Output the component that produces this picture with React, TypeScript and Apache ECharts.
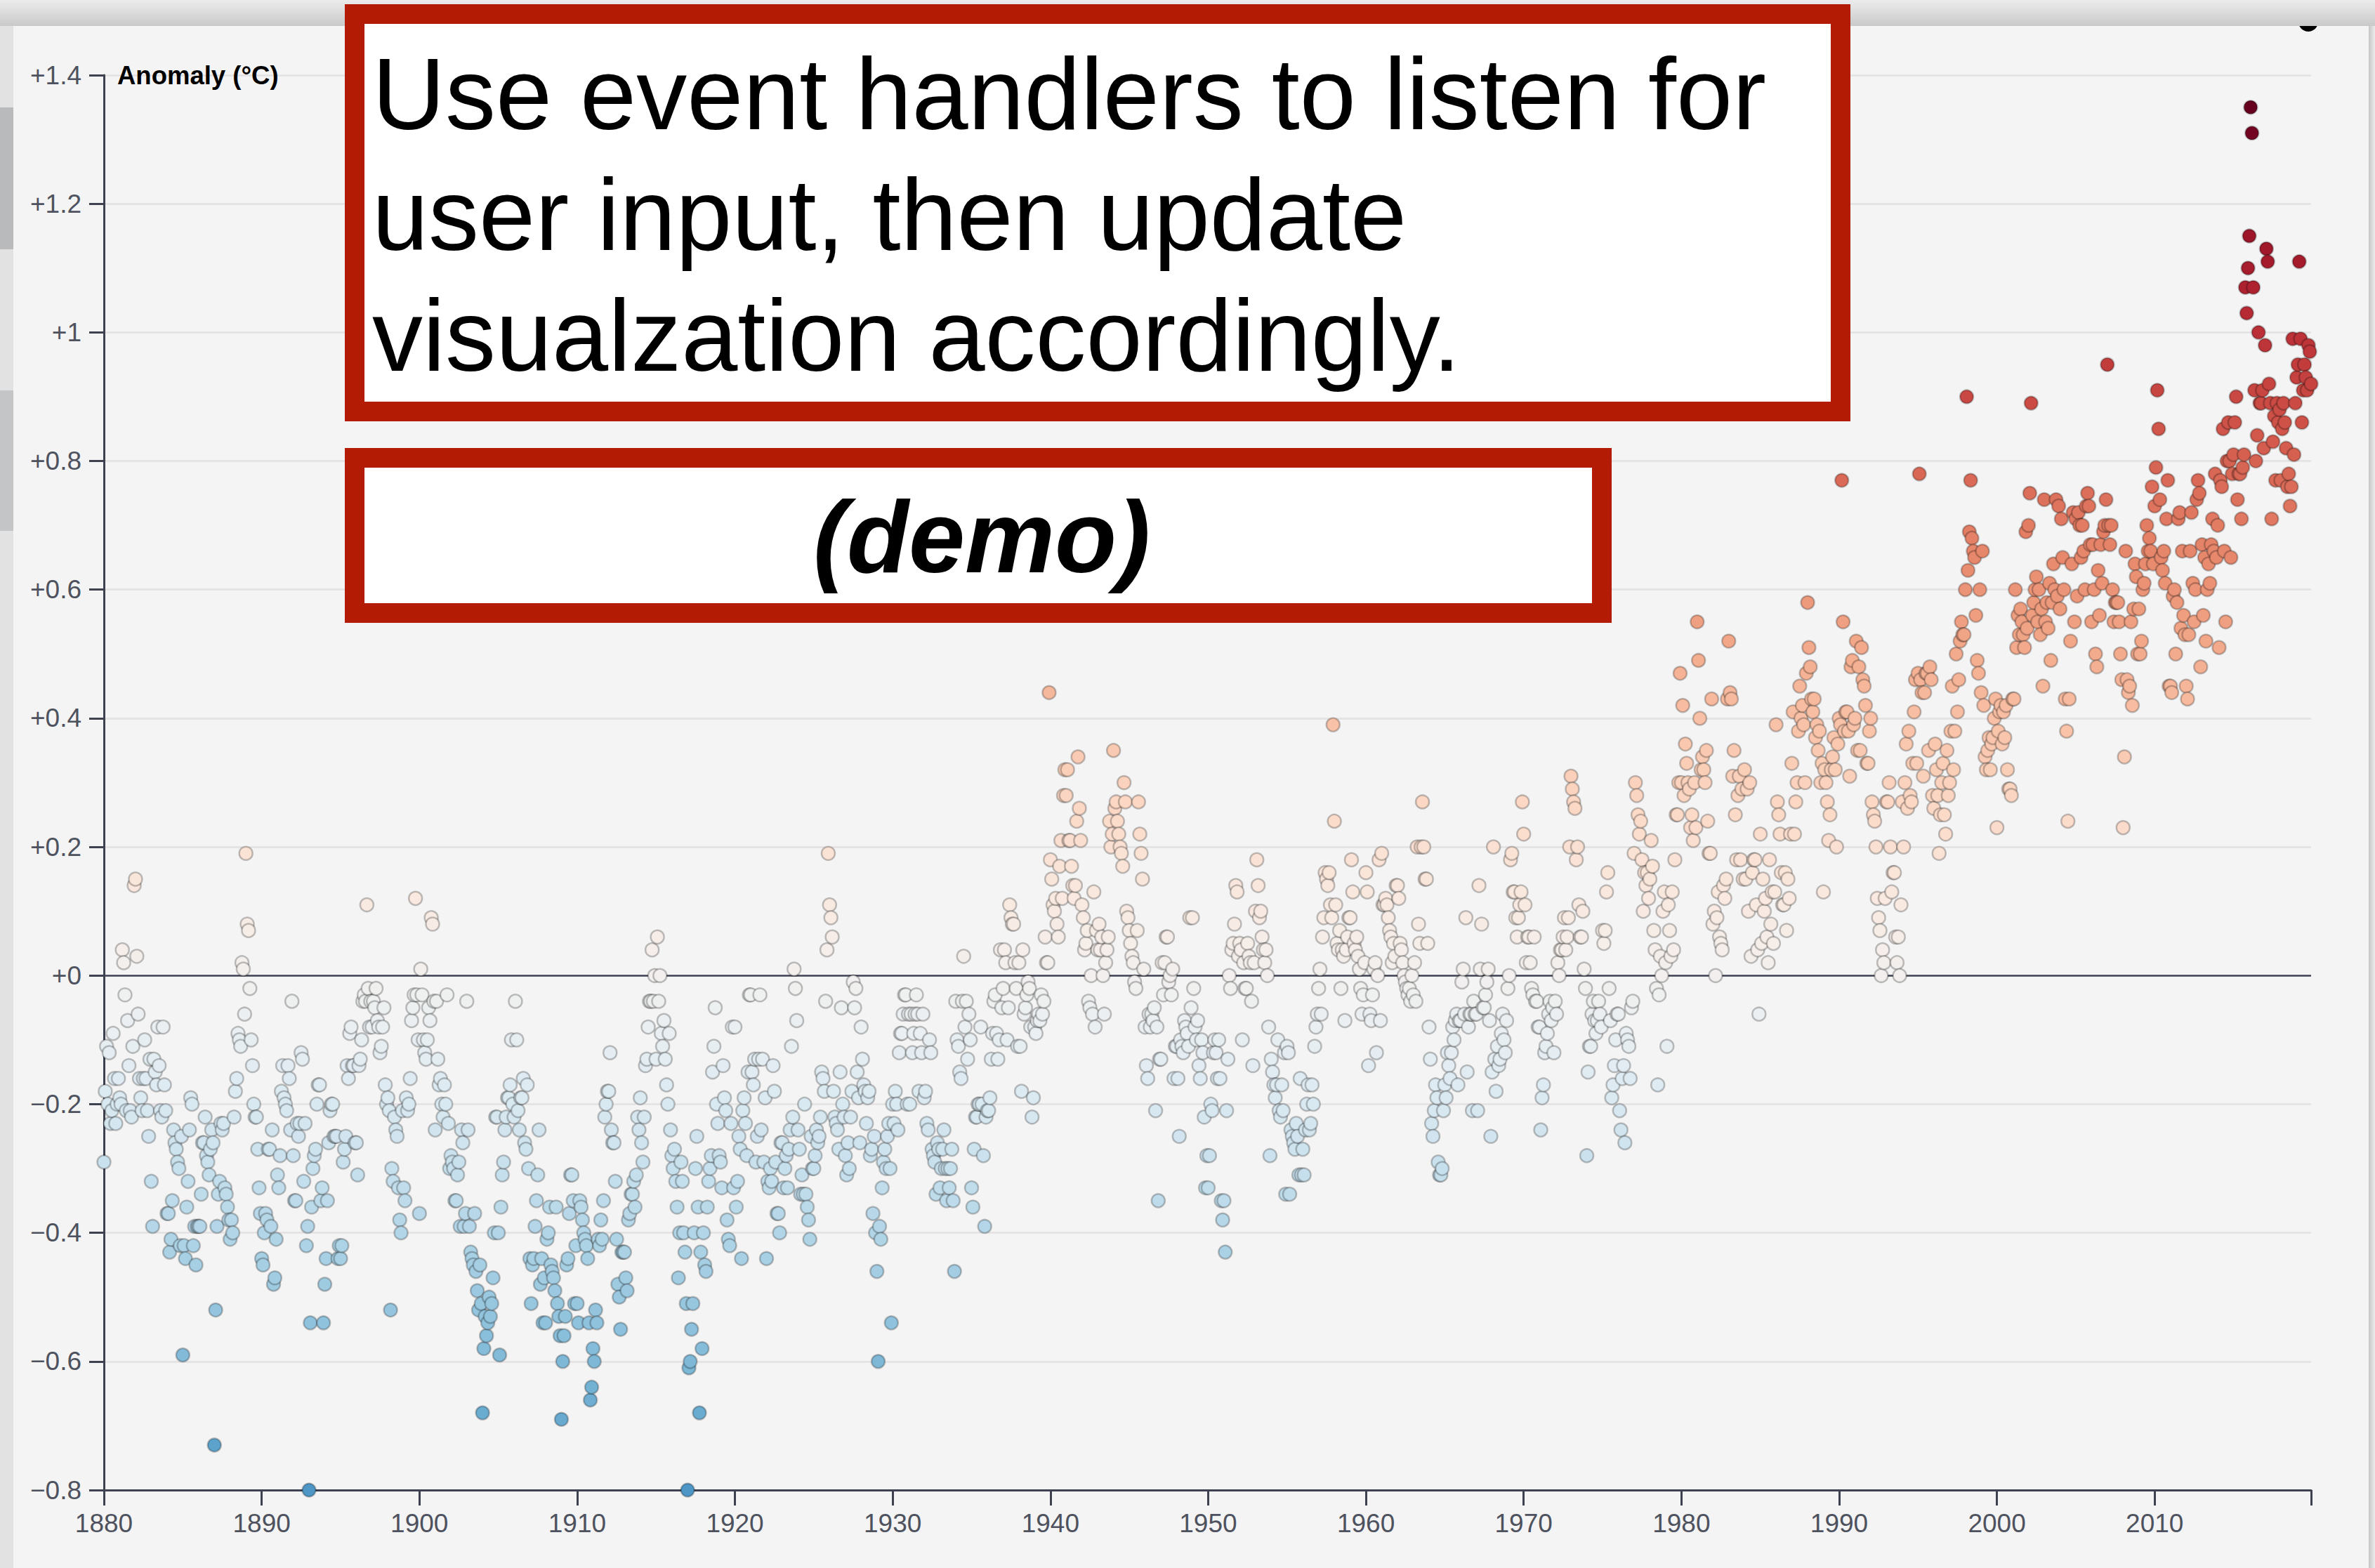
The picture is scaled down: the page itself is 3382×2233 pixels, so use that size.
import React, { useEffect, useRef } from "react";
import * as echarts from "echarts";

// ---------------- data (monthly anomalies, °C; 12 values per year) ----------------
const FIRST_YEAR = 1880;

const d1880s = [
  -0.29,-0.18,-0.11,-0.20,-0.12,-0.23,-0.21,-0.09,-0.16,-0.23,-0.20,-0.16,
  -0.19,-0.20,0.04,0.02,-0.03,-0.21,-0.07,-0.14,-0.21,-0.22,-0.11,0.14,
  0.15,0.03,-0.06,-0.16,-0.19,-0.21,-0.16,-0.10,-0.16,-0.21,-0.25,-0.13,
  -0.32,-0.39,-0.13,-0.15,-0.17,-0.08,-0.14,-0.21,-0.22,-0.08,-0.17,-0.21,
  -0.37,-0.37,-0.43,-0.41,-0.35,-0.24,-0.26,-0.27,-0.29,-0.30,-0.42,-0.25,
  -0.59,-0.42,-0.44,-0.36,-0.32,-0.24,-0.19,-0.20,-0.42,-0.39,-0.45,-0.39,
  -0.39,-0.39,-0.34,-0.26,-0.26,-0.22,-0.28,-0.29,-0.31,-0.27,-0.24,-0.26,
  -0.73,-0.52,-0.39,-0.34,-0.32,-0.23,-0.24,-0.23,-0.33,-0.34,-0.36,-0.38,
  -0.41,-0.38,-0.40,-0.22,-0.18,-0.16,-0.09,-0.10,-0.11,0.02,0.01,-0.06,
  0.19,0.08,0.07,-0.02,-0.10,-0.14,-0.20,-0.22,-0.22,-0.27,-0.33,-0.37,
];
const d1890s = [
  -0.44,-0.45,-0.40,-0.37,-0.38,-0.27,-0.27,-0.39,-0.24,-0.48,-0.47,-0.41,
  -0.31,-0.33,-0.28,-0.18,-0.14,-0.19,-0.20,-0.21,-0.14,-0.16,-0.24,-0.04,
  -0.28,-0.35,-0.35,-0.23,-0.25,-0.23,-0.12,-0.13,-0.32,-0.23,-0.42,-0.39,
  -0.80,-0.54,-0.36,-0.30,-0.28,-0.27,-0.20,-0.17,-0.17,-0.35,-0.33,-0.54,
  -0.48,-0.44,-0.35,-0.26,-0.21,-0.20,-0.20,-0.25,-0.25,-0.25,-0.44,-0.42,
  -0.44,-0.42,-0.29,-0.27,-0.25,-0.14,-0.16,-0.09,-0.08,-0.14,-0.14,-0.26,
  -0.26,-0.31,-0.14,-0.13,-0.10,-0.04,-0.03,-0.04,0.11,-0.02,-0.08,-0.04,
  -0.08,-0.04,-0.05,-0.02,-0.07,-0.08,-0.12,-0.11,-0.08,-0.05,-0.17,-0.20,
  -0.19,-0.21,-0.52,-0.30,-0.32,-0.22,-0.24,-0.25,-0.33,-0.38,-0.40,-0.21,
  -0.33,-0.35,-0.19,-0.21,-0.20,-0.16,-0.07,-0.05,-0.03,0.12,-0.03,-0.10,
];
const d1900s = [
  -0.37,0.01,-0.03,-0.10,-0.12,-0.13,-0.10,-0.05,-0.07,0.09,0.08,-0.04,
  -0.24,-0.04,-0.13,-0.17,-0.16,-0.20,-0.22,-0.17,-0.20,-0.03,-0.23,-0.30,
  -0.28,-0.29,-0.30,-0.35,-0.35,-0.31,-0.29,-0.39,-0.24,-0.26,-0.39,-0.37,
  -0.04,-0.24,-0.39,-0.43,-0.44,-0.45,-0.37,-0.46,-0.49,-0.52,-0.45,-0.51,
  -0.68,-0.58,-0.53,-0.56,-0.54,-0.50,-0.53,-0.51,-0.47,-0.40,-0.22,-0.22,
  -0.40,-0.59,-0.36,-0.31,-0.29,-0.24,-0.22,-0.19,-0.19,-0.17,-0.10,-0.20,
  -0.22,-0.04,-0.10,-0.21,-0.24,-0.19,-0.19,-0.16,-0.26,-0.27,-0.17,-0.30,
  -0.44,-0.51,-0.45,-0.44,-0.39,-0.35,-0.31,-0.24,-0.48,-0.44,-0.54,-0.47,
  -0.54,-0.41,-0.40,-0.36,-0.45,-0.46,-0.47,-0.49,-0.36,-0.51,-0.53,-0.56,
  -0.69,-0.60,-0.56,-0.53,-0.45,-0.44,-0.37,-0.31,-0.31,-0.35,-0.51,-0.42,
];
const d1910s = [
  -0.51,-0.54,-0.35,-0.36,-0.38,-0.40,-0.41,-0.42,-0.44,-0.54,-0.66,-0.64,
  -0.58,-0.60,-0.52,-0.54,-0.41,-0.42,-0.38,-0.41,-0.35,-0.22,-0.20,-0.18,
  -0.18,-0.12,-0.24,-0.26,-0.26,-0.32,-0.41,-0.48,-0.50,-0.55,-0.43,-0.43,
  -0.43,-0.47,-0.49,-0.38,-0.37,-0.34,-0.34,-0.32,-0.36,-0.31,-0.22,-0.24,
  -0.19,-0.26,-0.29,-0.22,-0.14,-0.13,-0.08,-0.04,-0.04,0.04,-0.04,0.00,
  -0.13,0.06,-0.04,0.00,-0.09,-0.11,-0.07,-0.13,-0.17,-0.20,-0.09,-0.24,
  -0.28,-0.30,-0.27,-0.32,-0.36,-0.47,-0.40,-0.29,-0.32,-0.40,-0.43,-0.51,
  -0.80,-0.61,-0.60,-0.55,-0.51,-0.40,-0.30,-0.25,-0.36,-0.68,-0.43,-0.58,
  -0.40,-0.45,-0.46,-0.36,-0.32,-0.30,-0.28,-0.15,-0.11,-0.05,-0.20,-0.23,
  -0.28,-0.29,-0.33,-0.14,-0.19,-0.21,-0.38,-0.41,-0.42,-0.23,-0.08,-0.33,
];
const d1920s = [
  -0.08,-0.36,-0.32,-0.25,-0.27,-0.44,-0.21,-0.19,-0.23,-0.28,-0.15,-0.03,
  -0.03,-0.15,-0.17,-0.13,-0.29,-0.25,-0.13,-0.03,-0.24,-0.13,-0.29,-0.19,
  -0.44,-0.32,-0.33,-0.30,-0.32,-0.14,-0.18,-0.29,-0.37,-0.37,-0.40,-0.26,
  -0.26,-0.33,-0.30,-0.28,-0.33,-0.27,-0.24,-0.11,-0.22,0.01,-0.02,-0.07,
  -0.24,-0.27,-0.34,-0.31,-0.34,-0.20,-0.34,-0.36,-0.38,-0.41,-0.25,-0.30,
  -0.30,-0.28,-0.24,-0.26,-0.25,-0.22,-0.15,-0.16,-0.18,-0.04,0.04,0.19,
  0.11,0.09,0.06,-0.18,-0.22,-0.23,-0.24,-0.27,-0.15,-0.05,-0.20,-0.22,
  -0.28,-0.31,-0.26,-0.30,-0.22,-0.18,-0.01,-0.05,-0.02,-0.15,-0.19,-0.26,
  -0.08,-0.13,-0.17,-0.18,-0.23,-0.19,-0.18,-0.28,-0.27,-0.37,-0.25,-0.40,
  -0.46,-0.60,-0.39,-0.41,-0.33,-0.29,-0.27,-0.30,-0.25,-0.23,-0.30,-0.54,
];
const d1930s = [
  -0.20,-0.23,-0.18,-0.20,-0.24,-0.12,-0.09,-0.09,-0.06,-0.03,-0.03,-0.20,
  -0.06,-0.20,-0.06,-0.12,-0.09,-0.06,-0.03,-0.06,-0.18,-0.09,-0.12,-0.06,
  -0.19,-0.18,-0.23,-0.24,-0.10,-0.12,-0.27,-0.28,-0.29,-0.34,-0.26,-0.27,
  -0.33,-0.30,-0.27,-0.24,-0.30,-0.35,-0.30,-0.33,-0.30,-0.27,-0.35,-0.46,
  -0.04,-0.10,-0.11,-0.15,-0.16,-0.04,0.03,-0.08,-0.04,-0.13,-0.06,-0.10,
  -0.33,-0.36,-0.27,-0.22,-0.22,-0.20,-0.20,-0.08,-0.20,-0.28,-0.39,-0.22,
  -0.21,-0.21,-0.19,-0.13,-0.09,-0.04,-0.03,-0.09,-0.13,-0.10,0.04,-0.05,
  -0.02,0.04,0.02,-0.10,-0.05,0.11,0.09,0.08,0.08,0.02,-0.02,-0.11,
  0.02,-0.11,-0.18,0.04,-0.06,-0.05,-0.03,-0.01,-0.02,-0.08,-0.22,-0.19,
  -0.08,-0.09,-0.07,-0.06,-0.07,-0.03,-0.06,-0.04,0.06,0.02,0.02,0.44,
];
const d1940s = [
  0.18,0.15,0.11,0.10,0.12,0.08,0.06,0.17,0.21,0.12,0.28,0.32,
  0.28,0.32,0.21,0.21,0.17,0.14,0.12,0.14,0.24,0.34,0.26,0.21,
  0.11,0.09,0.04,0.05,0.07,-0.04,-0.05,0.00,-0.06,0.13,-0.08,0.07,
  0.04,0.08,0.04,0.06,0.00,-0.06,0.02,0.04,0.06,0.24,0.20,0.22,
  0.35,0.26,0.27,0.24,0.22,0.20,0.19,0.17,0.30,0.27,0.10,0.09,
  0.07,0.05,0.03,0.02,-0.01,-0.02,0.07,0.27,0.22,0.19,0.15,0.01,
  -0.08,-0.14,-0.16,-0.06,-0.08,-0.06,-0.07,-0.05,-0.21,-0.08,-0.35,-0.13,
  -0.13,0.02,-0.03,0.02,0.06,0.06,-0.01,0.00,-0.03,0.01,-0.16,-0.11,
  -0.11,-0.16,-0.25,-0.10,-0.11,-0.12,-0.07,-0.08,-0.09,-0.11,0.09,-0.05,
  0.09,-0.02,-0.08,-0.10,-0.07,-0.14,-0.16,-0.10,-0.12,-0.22,-0.33,-0.28,
];
const d1950s = [
  -0.33,-0.28,-0.20,-0.21,-0.12,-0.10,-0.12,-0.16,-0.10,-0.16,-0.35,-0.38,
  -0.35,-0.43,-0.21,-0.13,0.00,-0.02,0.04,0.05,0.08,0.14,0.13,0.03,
  0.05,0.04,-0.10,0.02,-0.02,-0.02,0.05,0.03,0.02,-0.04,-0.14,0.02,
  0.10,0.18,0.14,0.09,0.10,0.06,0.04,0.02,0.04,0.00,-0.08,-0.28,
  -0.13,-0.15,-0.17,-0.19,-0.17,-0.10,-0.21,-0.22,-0.17,-0.21,-0.12,-0.34,
  -0.11,-0.12,-0.34,-0.24,-0.25,-0.26,-0.27,-0.23,-0.25,-0.31,-0.16,-0.31,
  -0.27,-0.31,-0.24,-0.20,-0.17,-0.24,-0.23,-0.17,-0.20,-0.11,-0.08,-0.06,
  -0.02,0.01,-0.06,0.06,0.09,0.16,0.15,0.14,0.16,0.11,0.09,0.39,
  0.24,0.11,0.05,0.04,0.07,-0.02,0.04,0.03,-0.07,0.04,0.06,0.09,
  0.09,0.18,0.13,0.05,0.04,0.06,0.03,0.01,-0.02,-0.06,-0.03,0.02,
];
const d1960s = [
  0.16,0.13,-0.14,-0.06,-0.07,-0.03,0.01,0.02,-0.12,0.00,0.18,-0.07,
  0.19,0.11,0.11,0.12,0.11,0.09,0.07,0.06,0.02,0.05,0.03,0.14,
  0.14,0.12,0.05,0.04,0.02,0.00,-0.01,-0.02,-0.03,-0.02,-0.04,0.00,
  -0.03,0.02,-0.04,0.20,0.08,0.05,0.20,0.27,0.20,0.15,0.15,0.05,
  -0.08,-0.13,-0.23,-0.25,-0.21,-0.17,-0.19,-0.29,-0.31,-0.31,-0.30,-0.21,
  -0.17,-0.19,-0.12,-0.14,-0.16,-0.12,-0.08,-0.10,-0.07,-0.06,-0.17,-0.07,
  -0.07,-0.01,0.01,-0.06,0.09,-0.15,-0.08,-0.06,-0.06,-0.21,-0.04,-0.06,
  -0.06,-0.21,0.14,0.01,0.08,-0.05,-0.05,-0.03,-0.01,0.01,-0.07,-0.25,
  -0.15,0.20,-0.13,-0.18,-0.11,-0.14,-0.13,-0.09,-0.06,-0.10,-0.12,-0.07,
  -0.02,0.00,0.18,0.19,0.13,0.13,0.09,0.06,0.09,0.11,0.13,0.27,
];
const d1970s = [
  0.22,0.11,0.02,0.06,0.06,0.02,-0.02,-0.03,0.06,-0.04,-0.04,-0.08,
  -0.08,-0.24,-0.19,-0.17,-0.12,-0.11,-0.09,-0.06,-0.04,-0.07,-0.05,-0.12,
  -0.04,-0.06,0.02,0.00,0.04,0.04,0.06,0.09,0.04,0.06,0.09,0.20,
  0.31,0.29,0.27,0.26,0.18,0.20,0.11,0.06,0.06,0.10,0.01,-0.02,
  -0.28,-0.15,-0.11,-0.11,-0.06,-0.04,-0.07,-0.09,-0.07,-0.04,-0.06,-0.08,
  0.07,0.05,0.07,0.13,0.16,-0.02,-0.07,-0.19,-0.17,-0.14,-0.10,-0.06,
  -0.06,-0.21,-0.24,-0.16,-0.14,-0.26,-0.09,-0.10,-0.11,-0.16,-0.05,-0.04,
  0.19,0.30,0.28,0.25,0.22,0.24,0.18,0.10,0.16,0.14,0.16,0.12,
  0.15,0.21,0.17,0.07,0.04,-0.02,-0.17,-0.03,0.03,0.00,0.10,0.13,
  0.02,-0.11,0.11,0.07,0.03,0.13,0.04,0.18,0.25,0.25,0.30,0.47,
];
const d1980s = [
  0.30,0.42,0.28,0.36,0.33,0.30,0.29,0.23,0.25,0.21,0.30,0.23,
  0.55,0.49,0.40,0.32,0.34,0.32,0.30,0.35,0.24,0.19,0.19,0.43,
  0.08,0.10,0.00,0.09,0.13,0.06,0.05,0.04,0.14,0.12,0.15,0.43,
  0.52,0.44,0.43,0.31,0.35,0.25,0.18,0.28,0.31,0.18,0.29,0.15,
  0.32,0.15,0.29,0.10,0.30,0.03,0.16,0.18,0.18,0.11,0.04,-0.06,
  0.22,0.05,0.15,0.10,0.12,0.06,0.02,0.18,0.08,0.13,0.05,0.13,
  0.39,0.27,0.25,0.22,0.16,0.11,0.11,0.16,0.07,0.15,0.12,0.22,
  0.33,0.41,0.22,0.27,0.30,0.38,0.45,0.40,0.42,0.39,0.30,0.47,
  0.58,0.51,0.48,0.43,0.41,0.43,0.37,0.39,0.35,0.38,0.30,0.33,
  0.13,0.32,0.30,0.27,0.21,0.25,0.32,0.34,0.37,0.32,0.20,0.36,
];
const d1990s = [
  0.40,0.39,0.77,0.55,0.38,0.41,0.41,0.38,0.31,0.48,0.49,0.39,
  0.40,0.52,0.35,0.48,0.35,0.51,0.46,0.45,0.42,0.33,0.33,0.38,
  0.40,0.27,0.25,0.24,0.20,0.12,0.09,0.07,0.00,0.04,0.02,0.12,
  0.27,0.27,0.30,0.20,0.13,0.16,0.16,0.06,0.02,0.06,0.00,0.11,
  0.27,0.20,0.30,0.36,0.26,0.38,0.28,0.27,0.33,0.41,0.46,0.33,
  0.47,0.78,0.46,0.44,0.31,0.44,0.47,0.47,0.35,0.48,0.46,0.28,
  0.26,0.36,0.32,0.28,0.19,0.25,0.30,0.33,0.25,0.22,0.35,0.28,
  0.30,0.38,0.45,0.32,0.38,0.50,0.41,0.46,0.52,0.55,0.53,0.53,
  0.60,0.90,0.63,0.69,0.77,0.68,0.66,0.65,0.56,0.49,0.47,0.60,
  0.44,0.66,0.42,0.34,0.32,0.35,0.37,0.32,0.36,0.37,0.40,0.43,
];
const d2000s = [
  0.23,0.38,0.41,0.42,0.36,0.41,0.37,0.42,0.32,0.29,0.29,0.28,
  0.43,0.43,0.60,0.51,0.56,0.53,0.57,0.55,0.53,0.51,0.69,0.54,
  0.70,0.75,0.89,0.56,0.58,0.60,0.62,0.55,0.60,0.53,0.57,0.45,
  0.74,0.55,0.58,0.54,0.61,0.49,0.58,0.64,0.60,0.74,0.59,0.73,
  0.57,0.71,0.65,0.60,0.43,0.38,0.24,0.43,0.52,0.64,0.72,0.55,
  0.71,0.59,0.72,0.70,0.65,0.70,0.66,0.60,0.73,0.75,0.73,0.67,
  0.55,0.67,0.60,0.50,0.48,0.63,0.56,0.67,0.61,0.69,0.70,0.74,
  0.95,0.70,0.67,0.70,0.60,0.55,0.58,0.58,0.58,0.55,0.50,0.46,
  0.23,0.34,0.66,0.46,0.44,0.45,0.55,0.42,0.57,0.64,0.62,0.50,
  0.57,0.50,0.52,0.60,0.61,0.64,0.70,0.66,0.68,0.66,0.76,0.64,
];
const d2010s = [
  0.73,0.79,0.91,0.85,0.74,0.65,0.63,0.66,0.61,0.71,0.77,0.45,
  0.45,0.44,0.59,0.60,0.50,0.58,0.71,0.72,0.54,0.66,0.56,0.53,
  0.45,0.43,0.53,0.66,0.72,0.61,0.55,0.60,0.74,0.77,0.75,0.48,
  0.67,0.56,0.65,0.52,0.60,0.64,0.61,0.67,0.71,0.66,0.78,0.65,
  0.70,0.51,0.77,0.76,0.85,0.66,0.55,0.80,0.86,0.80,0.65,0.78,
  0.81,0.86,0.90,0.74,0.78,0.78,0.71,0.79,0.81,1.07,1.03,1.10,
  1.15,1.35,1.31,1.07,0.91,0.80,0.84,1.00,0.89,0.89,0.91,0.82,
  0.98,1.13,1.11,0.92,0.89,0.71,0.83,0.87,0.77,0.89,0.86,0.88,
  0.77,0.85,0.89,0.86,0.82,0.76,0.78,0.73,0.76,0.99,0.81,0.89,
  0.93,0.95,1.11,0.99,0.86,0.91,0.95,0.93,0.91,0.98,0.97,0.92,
];

const decades = [d1880s, d1890s, d1900s, d1910s, d1920s, d1930s, d1940s,
  d1950s, d1960s, d1970s, d1980s, d1990s, d2000s, d2010s];

const xLabelYears = [1880, 1890, 1900, 1910, 1920, 1930, 1940, 1950, 1960, 1970, 1980, 1990, 2000, 2010];
const X_MAX = 2019 + 11 / 12; // last monthly date
const Y_MIN = -0.8;
const Y_MAX = 1.4;
const Y_STEP = 0.2;

const headlineLines = [
  "Use event handlers to listen for",
  "user input, then update",
  "visualzation accordingly.",
];
const demoText = "(demo)";
const yAxisTitle = "Anomaly (°C)";

// ---------------- colour (d3.interpolateRdBu, B-spline ramp) ----------------
const RDBU_HEX = ["67001f", "b2182b", "d6604d", "f4a582", "fddbc7", "f7f7f7",
  "d1e5f0", "92c5de", "4393c3", "2166ac", "053061"];
const RDBU_CH = [0, 1, 2].map((k) => RDBU_HEX.map((h) => parseInt(h.slice(2 * k, 2 * k + 2), 16)));

function basisInterp(values: number[], t: number): number {
  const n = values.length - 1;
  let i: number;
  if (t <= 0) { t = 0; i = 0; } else if (t >= 1) { t = 1; i = n - 1; } else i = Math.floor(t * n);
  const v1 = values[i], v2 = values[i + 1];
  const v0 = i > 0 ? values[i - 1] : 2 * v1 - v2;
  const v3 = i < n - 1 ? values[i + 2] : 2 * v2 - v1;
  const t1 = (t - i / n) * n, t2 = t1 * t1, t3 = t2 * t1;
  return ((1 - 3 * t1 + 3 * t2 - t3) * v0 + (4 - 6 * t2 + 3 * t3) * v1
    + (1 + 3 * t1 + 3 * t2 - 3 * t3) * v2 + t3 * v3) / 6;
}
function interpolateRdBu(t: number): string {
  const c = RDBU_CH.map((ch) => Math.max(0, Math.min(255, Math.round(basisInterp(ch, t)))));
  return `rgb(${c[0]},${c[1]},${c[2]})`;
}

// ---------------- build points ----------------
const points: [number, number][] = [];
decades.forEach((arr, k) => {
  arr.forEach((v, i) => {
    const year = FIRST_YEAR + 10 * k + Math.floor(i / 12);
    points.push([year + (i % 12) / 12, v]);
  });
});
const maxAbs = Math.max(...points.map((p) => Math.abs(p[1])));
const colorFor = (v: number) => interpolateRdBu((maxAbs - v) / (2 * maxAbs));

// ---------------- styling ----------------
const W = 3382;
const H = 2233;
const AXIS = "#3e4250";
const LABEL = "#4e525e";
const GRID = "#e4e1e2";
const FONT = "'Liberation Sans', Arial, Helvetica, sans-serif";
const RED = "#b41b04";

function fmtY(v: number): string {
  const r = Math.round(v * 10) / 10;
  const s = String(Math.abs(r));
  return (r < 0 ? "\u2212" : "+") + s;
}

export default function App() {
  const ref = useRef<HTMLDivElement>(null);
  useEffect(() => {
    if (!ref.current) return;
    const chart = echarts.init(ref.current, undefined, { renderer: "svg" });
    const nLines = Math.round((Y_MAX - Y_MIN) / Y_STEP) + 1;
    const gridColors: string[] = [];
    for (let i = 0; i < nLines; i++) {
      const v = Y_MIN + i * Y_STEP;
      gridColors.push(Math.abs(v) < 1e-9 ? AXIS : GRID);
    }
    const textStyle = (text: string, size: number, extra: any = {}) => ({
      text,
      fill: "#000",
      fontSize: size,
      fontFamily: FONT,
      ...extra,
    });
    chart.setOption({
      animation: false,
      backgroundColor: "#f4f4f4",
      grid: { left: 148, right: W - 3291, top: 107, bottom: H - 2122, containLabel: false },
      xAxis: {
        type: "value",
        min: 1880,
        max: X_MAX,
        interval: 10,
        axisLine: { show: true, onZero: false, lineStyle: { color: AXIS, width: 3 } },
        axisTick: {
          show: true,
          length: 22,
          lineStyle: { color: AXIS, width: 3 },
          customValues: [...xLabelYears, X_MAX],
        },
        axisLabel: {
          show: true,
          customValues: xLabelYears,
          color: LABEL,
          fontSize: 37,
          fontFamily: FONT,
          margin: 29,
          formatter: (v: number) => String(Math.round(v)),
        },
        splitLine: { show: false },
      },
      yAxis: {
        type: "value",
        min: Y_MIN,
        max: Y_MAX,
        interval: Y_STEP,
        axisLine: { show: true, onZero: false, lineStyle: { color: AXIS, width: 3 } },
        axisTick: { show: true, length: 21, lineStyle: { color: AXIS, width: 3 } },
        axisLabel: {
          color: LABEL,
          fontSize: 37,
          fontFamily: FONT,
          margin: 32,
          formatter: fmtY,
        },
        splitLine: { show: true, lineStyle: { color: gridColors, width: 2.5 } },
      },
      series: [
        {
          type: "scatter",
          data: points,
          symbol: "circle",
          symbolSize: 19,
          z: 3,
          itemStyle: {
            color: (p: any) => colorFor(p.value[1]),
            borderColor: "rgba(0,0,0,0.24)",
            borderWidth: 2.5,
            opacity: 1,
          },
          emphasis: { disabled: true },
        },
      ],
      graphic: [
        // y-axis title
        {
          type: "text",
          x: 167,
          y: 107,
          z: 50,
          style: textStyle(yAxisTitle, 36.5, {
            fontWeight: "bold",
            textAlign: "left", align: "left",
            textVerticalAlign: "middle", verticalAlign: "middle",
          }),
        },
        // browser chrome: left strip
        { type: "rect", z: 90, shape: { x: 0, y: 0, width: 19, height: H }, style: { fill: "#e2e2e2" } },
        { type: "rect", z: 91, shape: { x: 0, y: 153, width: 19, height: 202 }, style: { fill: "#b9babc" } },
        { type: "rect", z: 91, shape: { x: 0, y: 556, width: 19, height: 200 }, style: { fill: "#c4c5c7" } },
        // right strip
        {
          type: "rect", z: 90, shape: { x: 3373, y: 0, width: W - 3373, height: H },
          style: { fill: { type: "linear", x: 0, y: 0, x2: 1, y2: 0, colorStops: [
            { offset: 0, color: "#c6c6c6" }, { offset: 1, color: "#ececec" }] } },
        },
        // black dot peeking under the top bar
        { type: "circle", z: 95, shape: { cx: 3287, cy: 31, r: 14 }, style: { fill: "#000" } },
        // top bar
        {
          type: "rect", z: 96, shape: { x: 0, y: 0, width: W, height: 37 },
          style: { fill: { type: "linear", x: 0, y: 0, x2: 0, y2: 1, colorStops: [
            { offset: 0, color: "#ececec" }, { offset: 1, color: "#c9c9c9" }] } },
        },
        // headline box
        {
          type: "rect", z: 100, shape: { x: 505, y: 20, width: 2116, height: 566 },
          style: { fill: "#ffffff", stroke: RED, lineWidth: 28 },
        },
        ...headlineLines.map((line, i) => ({
          type: "text",
          z: 101,
          x: 530,
          y: 134 + i * 172,
          style: textStyle(line, 144, {
            textAlign: "left", align: "left",
            textVerticalAlign: "middle", verticalAlign: "middle",
          }),
        })),
        // demo box
        {
          type: "rect", z: 100, shape: { x: 505, y: 652, width: 1776, height: 221 },
          style: { fill: "#ffffff", stroke: RED, lineWidth: 28 },
        },
        {
          type: "text",
          z: 101,
          x: 1398,
          y: 765,
          style: textStyle(demoText, 144, {
            fontWeight: "bold",
            fontStyle: "italic",
            textAlign: "center", align: "center",
            textVerticalAlign: "middle", verticalAlign: "middle",
          }),
        },
      ],
    });
    return () => chart.dispose();
  }, []);
  return (
    <div
      ref={ref}
      style={{ position: "absolute", left: 0, top: 0, width: W, height: H }}
    />
  );
}
